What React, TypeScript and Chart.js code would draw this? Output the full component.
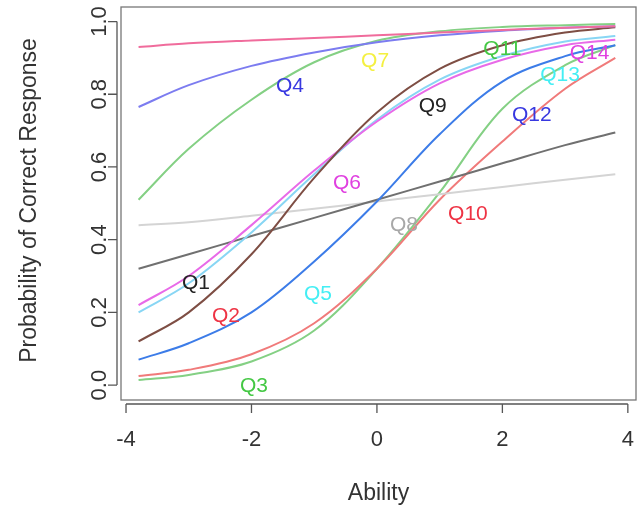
import React, { useEffect, useRef } from "react";
import { Chart, registerables } from "chart.js";

Chart.register(...registerables);

const ability = [-3.8, -3, -2, -1, 0, 1, 2, 3, 3.8];

// Item characteristic curves (probability of correct response)
const curvePink = [0.93, 0.94, 0.948, 0.955, 0.962, 0.97, 0.977, 0.983, 0.987];
const curvePurple = [0.765, 0.825, 0.878, 0.915, 0.943, 0.962, 0.975, 0.983, 0.987];
const curveGreenHigh = [0.51, 0.65, 0.785, 0.888, 0.947, 0.973, 0.985, 0.99, 0.993];
const curveBrown = [0.12, 0.2, 0.36, 0.57, 0.75, 0.87, 0.935, 0.97, 0.984];
const curveMagenta = [0.22, 0.3, 0.44, 0.59, 0.725, 0.83, 0.895, 0.935, 0.95];
const curveCyan = [0.2, 0.28, 0.42, 0.58, 0.73, 0.84, 0.905, 0.945, 0.96];
const curveBlue = [0.07, 0.115, 0.2, 0.34, 0.505, 0.69, 0.835, 0.905, 0.935];
const curveDarkGray = [0.32, 0.36, 0.41, 0.46, 0.51, 0.56, 0.61, 0.66, 0.695];
const curveLightGray = [0.44, 0.448, 0.466, 0.485, 0.505, 0.525, 0.545, 0.565, 0.58];
const curveRed = [0.025, 0.042, 0.085, 0.17, 0.32, 0.51, 0.67, 0.815, 0.9];
const curveGreenLow = [0.014, 0.028, 0.065, 0.15, 0.32, 0.53, 0.76, 0.88, 0.935];

const curves = [
  curvePink, curvePurple, curveGreenHigh, curveBrown, curveMagenta, curveCyan,
  curveBlue, curveDarkGray, curveLightGray, curveRed, curveGreenLow,
];
const curveColors = [
  "#f06c9c", "#7c7cf0", "#84d084", "#7e4e44", "#e86ae8", "#88d6f4",
  "#3c7ce8", "#707070", "#d4d4d4", "#f07a7a", "#84d084",
];

// Item labels placed in data coordinates
const itemNames = ["Q1", "Q2", "Q3", "Q4", "Q5", "Q6", "Q7", "Q8", "Q9", "Q10", "Q11", "Q12", "Q13", "Q14"];
const itemLabelX = [-2.885, -2.406, -1.96, -1.386, -0.94, -0.478, -0.03, 0.43, 0.89, 1.45, 2.0, 2.47, 2.92, 3.39];
const itemLabelY = [0.279, 0.189, -0.003, 0.822, 0.249, 0.556, 0.89, 0.441, 0.767, 0.471, 0.923, 0.742, 0.852, 0.912];
const itemColors = [
  "#222222", "#ee3344", "#44c844", "#3838e0", "#44eef4", "#e040e0", "#f4f040",
  "#a8a8a8", "#222222", "#ee3344", "#44c844", "#3838e0", "#44eef4", "#e040e0",
];

const xTicks = [-4, -2, 0, 2, 4];
const xTickLabels = ["-4", "-2", "0", "2", "4"];
const yTicks = [0, 0.2, 0.4, 0.6, 0.8, 1.0];
const yTickLabels = ["0.0", "0.2", "0.4", "0.6", "0.8", "1.0"];
const xTitle = "Ability";
const yTitle = "Probability of Correct Response";

const FONT = "'Liberation Sans', Arial, Helvetica, sans-serif";

const decoPlugin = {
  id: "deco",
  afterDatasetsDraw(chart: any) {
    const { ctx, chartArea: a, scales } = chart;
    const xs = scales.x;
    const ys = scales.y;
    ctx.save();
    // item labels
    ctx.font = `21px ${FONT}`;
    ctx.textAlign = "center";
    ctx.textBaseline = "middle";
    for (let i = 0; i < itemNames.length; i++) {
      ctx.fillStyle = itemColors[i];
      ctx.fillText(itemNames[i], xs.getPixelForValue(itemLabelX[i]), ys.getPixelForValue(itemLabelY[i]));
    }
    // frame
    ctx.strokeStyle = "#777777";
    ctx.lineWidth = 1.3;
    ctx.strokeRect(a.left, a.top, a.right - a.left, a.bottom - a.top);
    // x axis
    const axY = a.bottom + 4;
    ctx.strokeStyle = "#555555";
    ctx.beginPath();
    ctx.moveTo(xs.getPixelForValue(xTicks[0]), axY);
    ctx.lineTo(xs.getPixelForValue(xTicks[xTicks.length - 1]), axY);
    for (const t of xTicks) {
      const px = xs.getPixelForValue(t);
      ctx.moveTo(px, axY);
      ctx.lineTo(px, axY + 9);
    }
    // y axis
    const axX = a.left - 4;
    ctx.moveTo(axX, ys.getPixelForValue(yTicks[0]));
    ctx.lineTo(axX, ys.getPixelForValue(yTicks[yTicks.length - 1]));
    for (const t of yTicks) {
      const py = ys.getPixelForValue(t);
      ctx.moveTo(axX, py);
      ctx.lineTo(axX - 9, py);
    }
    ctx.stroke();
    // tick labels
    ctx.fillStyle = "#333333";
    ctx.font = `22px ${FONT}`;
    xTicks.forEach((t, i) => {
      ctx.fillText(xTickLabels[i], xs.getPixelForValue(t), a.bottom + 40);
    });
    yTicks.forEach((t, i) => {
      ctx.save();
      ctx.translate(a.left - 21, ys.getPixelForValue(t));
      ctx.rotate(-Math.PI / 2);
      ctx.fillText(yTickLabels[i], 0, 0);
      ctx.restore();
    });
    // titles
    ctx.font = `23px ${FONT}`;
    ctx.fillText(xTitle, (a.left + a.right) / 2, a.bottom + 94);
    ctx.save();
    ctx.translate(a.left - 91, (a.top + a.bottom) / 2 - 3);
    ctx.rotate(-Math.PI / 2);
    ctx.fillText(yTitle, 0, 0);
    ctx.restore();
    ctx.restore();
  },
};

export default function App() {
  const ref = useRef<HTMLCanvasElement | null>(null);
  useEffect(() => {
    if (!ref.current) return;
    const chart = new Chart(ref.current, {
      type: "line",
      data: {
        datasets: curves.map((c, i) => ({
          label: `curve${i + 1}`,
          data: ability.map((x, j) => ({ x, y: c[j] })),
          borderColor: curveColors[i],
          borderWidth: 2,
          pointRadius: 0,
          fill: false,
          tension: 0.35,
        })),
      },
      options: {
        responsive: false,
        animation: false,
        layout: { padding: { left: 121, right: 5, top: 7, bottom: 110 } },
        plugins: { legend: { display: false }, tooltip: { enabled: false } },
        scales: {
          x: { type: "linear", min: -4.08, max: 4.13, display: false },
          y: { type: "linear", min: -0.041, max: 1.04, display: false },
        },
      },
      plugins: [decoPlugin],
    });
    return () => chart.destroy();
  }, []);
  return (
    <div style={{ position: "absolute", left: 0, top: 0, width: 641, height: 510, background: "#fff" }}>
      <canvas ref={ref} width={641} height={510} />
    </div>
  );
}
